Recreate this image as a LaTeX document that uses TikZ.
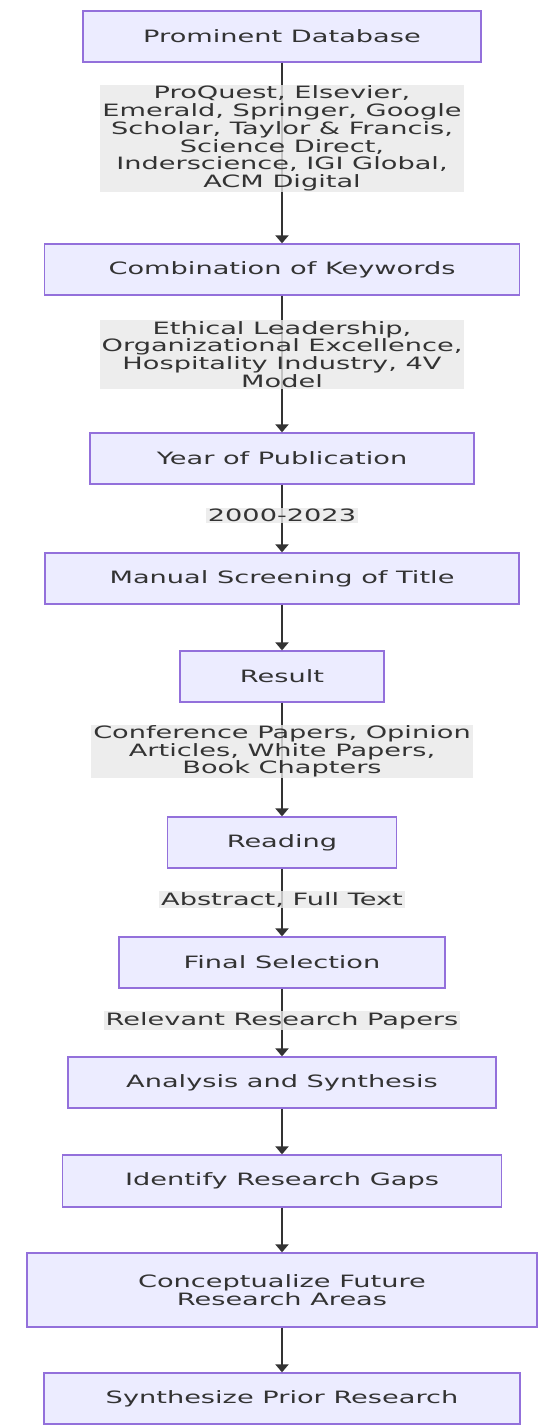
\documentclass[tikz,border=0pt]{standalone}
\usepackage{fontspec}
\setmainfont{DejaVu Sans}[FakeStretch=1.6]
\usetikzlibrary{arrows.meta}
\definecolor{boxfill}{HTML}{ECECFF}
\definecolor{boxline}{HTML}{9370DB}
\definecolor{lblfill}{HTML}{E8E8E8}
\definecolor{ink}{HTML}{333333}
\tikzstyle{stepbox}=[draw=boxline, fill=boxfill, line width=1.3pt,
    text=ink, align=center, minimum height=51pt, inner sep=0pt]
\tikzstyle{lbl}=[fill=lblfill, fill opacity=0.8, text opacity=1,
    text=ink, align=center, inner xsep=2pt, inner ysep=1pt]
\tikzstyle{link}=[-{Triangle[length=8pt,width=13pt]}, draw=ink, line width=2pt]

\begin{document}
\begin{tikzpicture}[x=1pt, y=-1pt, font=\fontsize{17}{17.7}\selectfont]
    \useasboundingbox (0,0) rectangle (546,1427);
    % steps of the review
    \path (282,36.5) node (db) [stepbox, minimum width=398pt] {Prominent Database};
    \path (282,269.5) node (kw) [stepbox, minimum width=475pt] {Combination of Keywords};
    \path (282,458.5) node (yr) [stepbox, minimum width=384pt] {Year of Publication};
    \path (282,578.5) node (ms) [stepbox, minimum width=474pt] {Manual Screening of Title};
    \path (282,676.5) node (res) [stepbox, minimum width=204pt] {Result};
    \path (282,842.5) node (rd) [stepbox, minimum width=229pt] {Reading};
    \path (282,962.5) node (fs) [stepbox, minimum width=326pt] {Final Selection};
    \path (282,1082.5) node (an) [stepbox, minimum width=428pt] {Analysis and Synthesis};
    \path (282,1181) node (gap) [stepbox, minimum width=439pt, minimum height=52pt] {Identify Research Gaps};
    \path (282,1290) node (fut) [stepbox, minimum width=510pt, minimum height=74pt] {Conceptualize Future\\Research Areas};
    \path (282,1398.5) node (syn) [stepbox, minimum width=476pt] {Synthesize Prior Research};
    % connectors
    \draw[link] (db) -- node[lbl, pos=.42] (src) {ProQuest, Elsevier,\\Emerald, Springer, Google\\Scholar, Taylor \& Francis,\\Science Direct,\\Inderscience, IGI Global,\\ACM Digital} (kw);
    \draw[link] (kw) -- node[lbl, pos=.43] (keys) {Ethical Leadership,\\Organizational Excellence,\\Hospitality Industry, 4V\\Model} (yr);
    \draw[link] (yr) -- node[lbl, pos=.46] (years) {2000-2023} (ms);
    \draw[link] (ms) -- (res);
    \draw[link] (res) -- node[lbl, pos=.43] (excl) {Conference Papers, Opinion\\Articles, White Papers,\\Book Chapters} (rd);
    \draw[link] (rd) -- node[lbl, pos=.46] (parts) {Abstract, Full Text} (fs);
    \draw[link] (fs) -- node[lbl, pos=.47] (rel) {Relevant Research Papers} (an);
    \draw[link] (an) -- (gap);
    \draw[link] (gap) -- (fut);
    \draw[link] (fut) -- (syn);
\end{tikzpicture}
\end{document}
